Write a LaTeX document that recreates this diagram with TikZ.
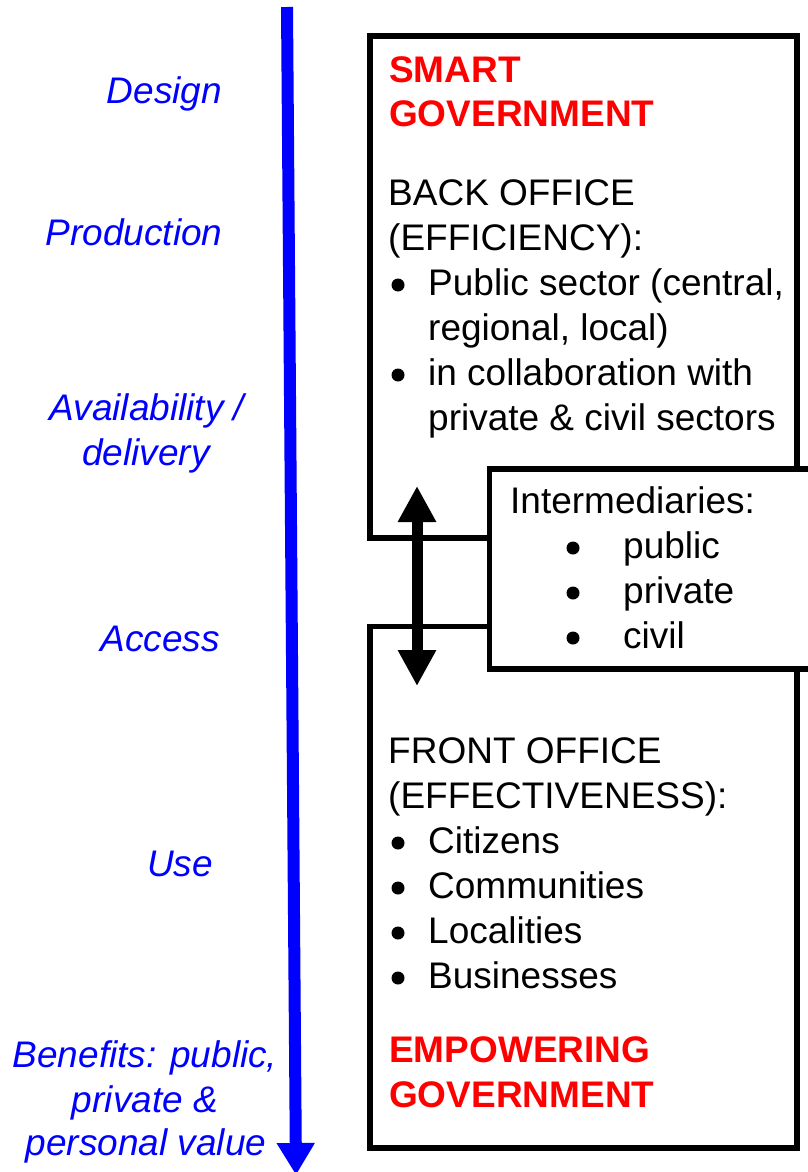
\documentclass[tikz,border=0pt]{standalone}
\usepackage{fontspec}
\setmainfont{Liberation Sans}
\usetikzlibrary{arrows.meta}

\definecolor{stageblue}{RGB}{0,0,255}
\definecolor{govred}{RGB}{255,0,0}

\tikzset{
  panel/.style={draw, line width=5.5pt, fill=white, inner sep=0pt},
  bodytext/.style={anchor=base west, inner sep=0pt, font=\fontsize{37}{45}\selectfont},
  headtext/.style={bodytext, text=govred, font=\fontsize{37}{45}\selectfont\bfseries},
  stage/.style={anchor=base, inner sep=0pt, text=stageblue, font=\fontsize{37}{45}\selectfont\itshape},
}

\begin{document}
\begin{tikzpicture}[x=1pt, y=-1pt]
  \path[use as bounding box, clip] (0,0) rectangle (808,1172);

  % Cajas
  \node[panel, minimum width=427pt, minimum height=502pt] (back) at (583.5,287) {};
  \node[panel, minimum width=427pt, minimum height=521.5pt] (front) at (583.5,887.25) {};
  \node[panel, minimum width=345pt, minimum height=200pt] (interm) at (662,569) {};

  % Flecha azul
  \coordinate (flowtop) at (287,7);
  \coordinate (flowend) at (296,1175);
  \draw[stageblue, line width=12pt, -{Triangle[width=36pt,length=32pt]}] (flowtop) -- (flowend);

  % Flecha doble
  \coordinate (linkup) at (417,486);
  \coordinate (linkdown) at (417,686);
  \draw[line width=11pt, {Triangle[width=36pt,length=36pt]}-{Triangle[width=36pt,length=36pt]}] (linkup) -- (linkdown);

  % Etapas
  \node[stage] (design) at (164.5,103) {Design};
  \node[stage] (production) at (134,245) {Production};
  \node[stage] (avail1) at (147,420) {Availability /};
  \node[stage] (avail2) at (146,465) {delivery};
  \node[stage] (access) at (160,651) {Access};
  \node[stage] (use) at (180,876) {Use};
  \node[stage] (benefit1) at (145,1067) {Benefits: public,};
  \node[stage] (benefit2) at (145,1112) {private \&};
  \node[stage] (benefit3) at (146,1155) {personal value};

  % Back office
  \node[headtext] (smart1) at (389,82) {SMART};
  \node[headtext] (smart2) at (389,126) {GOVERNMENT};
  \node[bodytext] (backhead1) at (388,205) {BACK OFFICE};
  \node[bodytext] (backhead2) at (388,250) {(EFFICIENCY):};
  \foreach \y/\t [count=\i] in {295/{Public sector (central,}, 340/{regional, local)},
      385/{in collaboration with}, 430/{private \& civil sectors}}
    \node[bodytext] (backline\i) at (428,\y) {\t};

  % Intermediarios
  \node[bodytext] (intermhead) at (510,513) {Intermediaries:};
  \foreach \y/\t [count=\i] in {558/public, 603/private, 648/civil}
    \node[bodytext] (intermline\i) at (623,\y) {\t};

  % Front office
  \node[bodytext] (fronthead1) at (388,763) {FRONT OFFICE};
  \node[bodytext] (fronthead2) at (388,808) {(EFFECTIVENESS):};
  \foreach \y/\t [count=\i] in {853/Citizens, 898/Communities,
      943/Localities, 988/Businesses}
    \node[bodytext] (frontline\i) at (428,\y) {\t};
  \node[headtext] (empower1) at (389,1062) {EMPOWERING};
  \node[headtext] (empower2) at (389,1107) {GOVERNMENT};

  % Puntos de lista
  \foreach \x/\y in {398/285, 398/375, 573/548, 573/593, 573/638,
      398/843, 398/888, 398/933, 398/978}
    \fill (\x,\y) circle (6.5pt);
\end{tikzpicture}
\end{document}
